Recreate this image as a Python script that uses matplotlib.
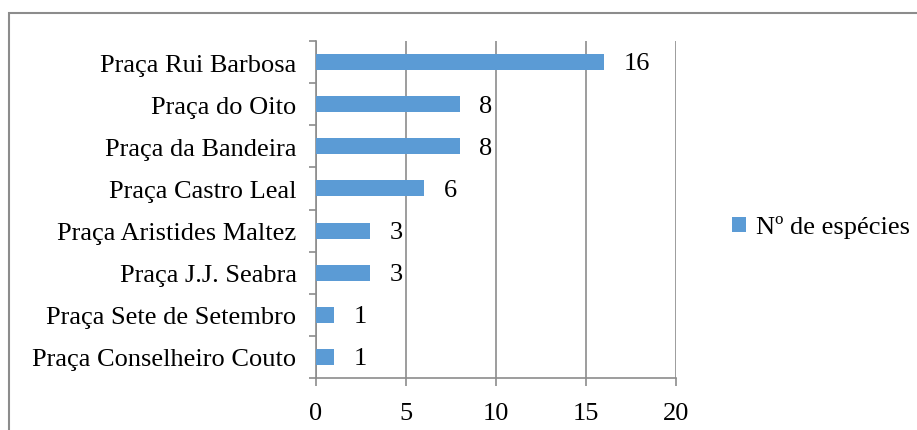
import matplotlib
matplotlib.use("Agg")
from matplotlib import pyplot as plt
from matplotlib.patches import Rectangle

# top to bottom as in the chart
PRACAS = [
    "Praça Rui Barbosa",
    "Praça do Oito",
    "Praça da Bandeira",
    "Praça Castro Leal",
    "Praça Aristides Maltez",
    "Praça J.J. Seabra",
    "Praça Sete de Setembro",
    "Praça Conselheiro Couto",
]
N_ESPECIES = [16, 8, 8, 6, 3, 3, 1, 1]
X_TICKS = [0, 5, 10, 15, 20]
SERIES_NAME = "Nº de espécies"

BAR_COLOR = "#5B9BD5"
GRID_COLOR = "#8C8C8C"
FONT = ["Liberation Serif", "DejaVu Serif"]
FS = 19

plt.rcParams["font.family"] = FONT

W, H = 917, 431
fig = plt.figure(figsize=(W / 100, H / 100), dpi=100)

# outer chart border (only top and left visible in the crop)
fig.add_artist(Rectangle((9 / W, -0.2), 1.2, 1.2 - 14 / H,
                         transform=fig.transFigure, fill=False,
                         edgecolor="#8C8C8C", linewidth=1.5))

ax = fig.add_axes([316 / W, 1 - 379 / H, 360 / W, 337 / H])

ypos = list(range(len(PRACAS)))
ax.barh(ypos, N_ESPECIES, height=0.38, color=BAR_COLOR, label=SERIES_NAME, zorder=3)
ax.set_ylim(len(PRACAS) - 0.5, -0.5)
ax.set_xlim(X_TICKS[0], X_TICKS[-1])

for y, v in zip(ypos, N_ESPECIES):
    ax.annotate(str(v), (v, y), xytext=(14, -1), textcoords="offset points",
                va="center", ha="left", fontsize=FS)

ax.set_xticks(X_TICKS)
ax.set_xticklabels([str(t) for t in X_TICKS], fontsize=FS)
ax.set_yticks([i + 0.5 for i in range(-1, len(PRACAS))])
ax.set_yticklabels([])
ax.set_yticks(ypos, minor=True)
ax.set_yticklabels(PRACAS, minor=True, fontsize=FS)
ax.tick_params(axis="y", which="minor", length=0, pad=14)
ax.tick_params(axis="y", which="major", length=5, color=GRID_COLOR, width=1.2)
ax.tick_params(axis="x", length=6, color=GRID_COLOR, width=1.2, pad=11)

ax.grid(axis="x", color=GRID_COLOR, linewidth=1.2, zorder=0)
for side in ("top", "right"):
    ax.spines[side].set_visible(False)
for side in ("left", "bottom"):
    ax.spines[side].set_color(GRID_COLOR)
    ax.spines[side].set_linewidth(1.2)

handles, labels = ax.get_legend_handles_labels()
fig.legend(handles, labels, loc="center left", bbox_to_anchor=(714 / W, 1 - 228 / H),
           frameon=False, fontsize=FS, handlelength=0.5, handleheight=0.5,
           handletextpad=0.4, borderpad=0.2)

fig.savefig("out.png", dpi=100)
